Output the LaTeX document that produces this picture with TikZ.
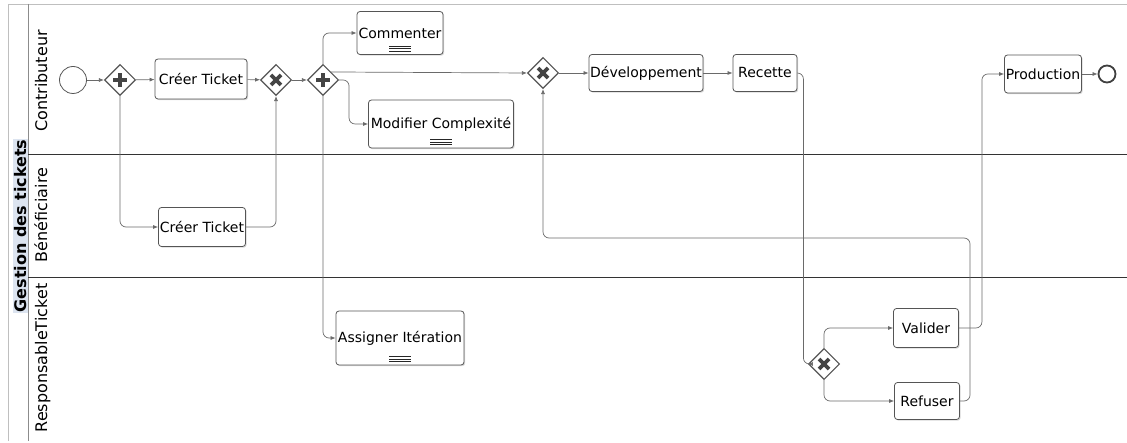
\documentclass[tikz,border=0pt]{standalone}
\usepackage{fontspec}
\setmainfont{DejaVu Sans}
\usetikzlibrary{arrows.meta,shapes.geometric,shadows}

\definecolor{gline}{HTML}{6A6A6A}
\definecolor{tline}{HTML}{555555}
\definecolor{gsym}{HTML}{444444}
\definecolor{hl}{HTML}{DCE4F0}

\begin{document}
\begin{tikzpicture}[
  x=1pt, y=-1pt,
  task/.style  = {draw=tline, fill=white, rounded corners=3pt, line width=0.8pt,
                  inner sep=0pt, font=\fontsize{14}{16}\selectfont,
                  drop shadow={shadow xshift=1.2pt, shadow yshift=-1.2pt, opacity=0.3}},
  multi/.style = {path picture={
                    \foreach \d in {3.5,6,8.5}
                      \draw[line width=0.7pt, black!85]
                        ([xshift=-11pt, yshift=\d pt]path picture bounding box.south)
                        -- ++(22pt,0pt);}},
  gate/.style  = {diamond, draw=tline, fill=white, line width=1.1pt,
                  minimum size=31pt, inner sep=0pt},
  andgate/.style = {gate, path picture={
                    \draw[line width=3.6pt, gsym]
                      ([xshift=-7pt]path picture bounding box.center)
                      -- ([xshift=7pt]path picture bounding box.center)
                      ([yshift=-7pt]path picture bounding box.center)
                      -- ([yshift=7pt]path picture bounding box.center);}},
  xorgate/.style = {gate, path picture={
                    \draw[line width=3.6pt, gsym]
                      ([shift={(-5pt,-5pt)}]path picture bounding box.center)
                      -- ([shift={(5pt,5pt)}]path picture bounding box.center)
                      ([shift={(-5pt,5pt)}]path picture bounding box.center)
                      -- ([shift={(5pt,-5pt)}]path picture bounding box.center);}},
  startev/.style = {circle, draw=tline, fill=white, line width=0.8pt,
                    minimum size=27pt, inner sep=0pt},
  endev/.style   = {circle, draw=black!75, fill=white, line width=1.8pt,
                    minimum size=17pt, inner sep=0pt},
  flow/.style  = {draw=gline, line width=0.7pt, rounded corners=6pt},
  lane/.style  = {rotate=90, anchor=base, font=\fontsize{16}{18}\selectfont},
  >={Latex[length=5pt,width=4pt]}
]
  \useasboundingbox (0,0) rectangle (1127,443);

  % Piscine et couloirs
  \draw[black!25, line width=0.8pt] (8,441) -- (8,4) -- (1127,4);
  \draw[black!45, line width=0.8pt] (28,4) -- (28,441);
  \draw[black!80, line width=1pt] (28,155) -- (1127,155);
  \draw[black!80, line width=1pt] (28,278) -- (1127,278);
  \node[rotate=90, anchor=base, fill=hl, inner sep=1pt,
        font=\fontsize{16}{18}\selectfont\bfseries] (pool) at (26.5,226) {Gestion des tickets};
  \node[lane] (lc) at (47,81)  {Contributeur};
  \node[lane] (lb) at (47,215) {Bénéficiaire};
  \node[lane] (lr) at (47,358) {ResponsableTicket};

  % Evenements et passerelles
  \node[startev] (start) at (73,80) {};
  \node[andgate] (pg1) at (120,80) {};
  \node[xorgate] (xg1) at (276,80) {};
  \node[andgate] (pg2) at (323,80) {};
  \node[xorgate] (xg2) at (543,73) {};
  \node[xorgate] (xg3) at (824,364) {};
  \node[endev]   (fin) at (1107,74) {};

  % Taches
  \node[task, minimum width=92, minimum height=40] (ct1) at (201,79)  {Créer Ticket};
  \node[task, minimum width=87, minimum height=39] (ct2) at (202,227) {Créer Ticket};
  \node[task, multi, minimum width=86, minimum height=43]  (com) at (400,33)  {Commenter};
  \node[task, multi, minimum width=145, minimum height=48] (mod) at (441,124) {Modifier Complexité};
  \node[task, multi, minimum width=128, minimum height=54] (ass) at (400,338) {Assigner Itération};
  \node[task, minimum width=114, minimum height=37] (dev)  at (646,73)  {Développement};
  \node[task, minimum width=64, minimum height=37]  (rec)  at (765,73)  {Recette};
  \node[task, minimum width=65, minimum height=39]  (val)  at (926,328) {Valider};
  \node[task, minimum width=65, minimum height=37]  (ref)  at (927,401) {Refuser};
  \node[task, minimum width=77, minimum height=38]  (prod) at (1043,74) {Production};

  % Flux
  \coordinate (back) at (970,238);
  \draw[flow, ->] (start) -- (pg1);
  \draw[flow, ->] (pg1) -- (ct1);
  \draw[flow, ->] (ct1) -- (xg1);
  \draw[flow, ->] (pg1.south) |- (ct2.west);
  \draw[flow, ->] (ct2.east) -| (xg1.south);
  \draw[flow, ->] (xg1) -- (pg2);
  \draw[flow, ->] (pg2.north) |- (com.west);
  \draw[flow, ->] (pg2.east) -- ++(10,0) |- (mod.west);
  \draw[flow, ->] (pg2.south) |- (ass.west);
  \draw[flow, ->] (pg2.north east) -- (xg2.west);
  \draw[flow, ->] (xg2) -- (dev);
  \draw[flow, ->] (dev) -- (rec);
  \draw[flow, ->] (rec.east) -- ++(6,0) |- (xg3.west);
  \draw[flow, ->] (xg3.north) |- (val.west);
  \draw[flow, ->] (xg3.south) |- (ref.west);
  \draw[flow, ->] (ref.east) -| (back) -| (xg2.south);
  \draw[flow, ->] (val.east) -- ++(23,0) |- (prod.west);
  \draw[flow, ->] (prod) -- (fin);
\end{tikzpicture}
\end{document}
